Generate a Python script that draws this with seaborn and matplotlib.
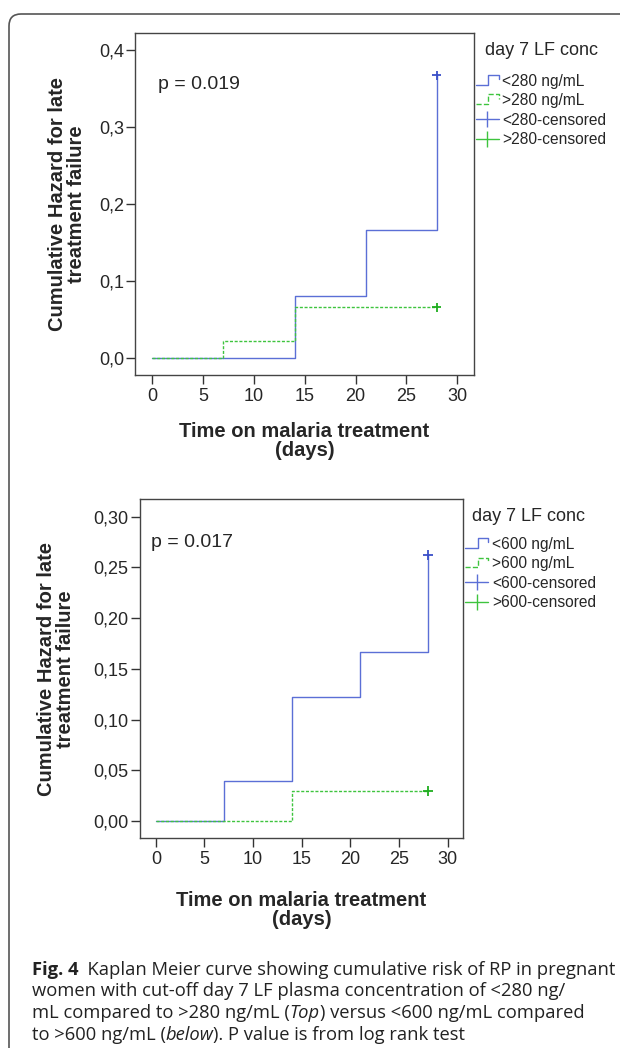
import numpy as np
import pandas as pd
import matplotlib
matplotlib.use('Agg')
import matplotlib.pyplot as plt
import seaborn as sns
from matplotlib.lines import Line2D
from matplotlib.legend_handler import HandlerBase
from matplotlib.patches import FancyBboxPatch
from matplotlib.transforms import IdentityTransform

# ---- data ----
# top panel (cut-off 280 ng/mL): step times and cumulative hazard after each step
top_low_days = [0, 14, 21, 28]
top_low_haz = [0.0, 0.081, 0.167, 0.367]
top_high_days = [0, 7, 14, 28]
top_high_haz = [0.0, 0.022, 0.066, 0.066]
top_labels = ['<280 ng/mL', '>280 ng/mL', '<280-censored', '>280-censored']
top_p = 'p = 0.019'
top_yticks = [0.0, 0.1, 0.2, 0.3, 0.4]
top_yticklabels = ['0,0', '0,1', '0,2', '0,3', '0,4']

# bottom panel (cut-off 600 ng/mL)
bot_low_days = [0, 7, 14, 21, 28]
bot_low_haz = [0.0, 0.039, 0.1225, 0.167, 0.262]
bot_high_days = [0, 14, 28]
bot_high_haz = [0.0, 0.0296, 0.0296]
bot_labels = ['<600 ng/mL', '>600 ng/mL', '<600-censored', '>600-censored']
bot_p = 'p = 0.017'
bot_yticks = [0.0, 0.05, 0.10, 0.15, 0.20, 0.25, 0.30]
bot_yticklabels = ['0,00', '0,05', '0,10', '0,15', '0,20', '0,25', '0,30']

censor_day = 28
xticks = [0, 5, 10, 15, 20, 25, 30]
legend_title = 'day 7 LF conc'

BLUE = '#5b6fd6'
BLUE_MK = '#3a4fc8'
GREEN = '#3ec43e'
GREEN_MK = '#1fae1f'

sns.set_style('ticks')
arial = ['Liberation Sans', 'DejaVu Sans']
plt.rcParams['font.family'] = arial


class StepHandler(HandlerBase):
    # small step glyph like the SPSS legend
    def create_artists(self, legend, orig_handle, xdescent, ydescent,
                       width, height, fontsize, trans):
        xs = [-xdescent + f * width for f in (0, 0.55, 0.55, 1, 1)]
        ys = [-ydescent + f * height for f in (0.1, 0.1, 1.0, 1.0, 0.6)]
        ln = Line2D(xs, ys, color=orig_handle.get_color(),
                    linestyle=orig_handle.get_linestyle(),
                    linewidth=orig_handle.get_linewidth())
        ln.set_transform(trans)
        return [ln]


def km_panel(ax, low_days, low_haz, high_days, high_haz, labels, ptxt,
             yticks, yticklabels, ylim, ptxt_xy, ylab_x, xlab_y, leg_xy,
             title_xy):
    df_low = pd.DataFrame({'day': low_days, 'haz': low_haz})
    df_high = pd.DataFrame({'day': high_days, 'haz': high_haz})
    sns.lineplot(data=df_low, x='day', y='haz', ax=ax, color=BLUE,
                 drawstyle='steps-post', estimator=None, sort=False, lw=1.0)
    sns.lineplot(data=df_high, x='day', y='haz', ax=ax, color=GREEN,
                 drawstyle='steps-post', estimator=None, sort=False, lw=1.0,
                 linestyle=(0, (2.2, 1.2)))
    # censored marks at end of follow-up
    cens = pd.DataFrame({'day': [censor_day, censor_day],
                         'haz': [low_haz[-1], high_haz[-1]],
                         'grp': ['low', 'high']})
    sns.scatterplot(data=cens, x='day', y='haz', hue='grp',
                    palette={'low': BLUE_MK, 'high': GREEN_MK},
                    marker='+', s=45, linewidth=1.3, ax=ax, legend=False,
                    zorder=5)

    ax.set_xlim(-1.67, 31.63)
    ax.set_ylim(*ylim)
    ax.set_xticks(xticks)
    ax.set_xticklabels([str(t) for t in xticks], fontsize=13)
    ax.set_yticks(yticks)
    ax.set_yticklabels(yticklabels, fontsize=13)
    ax.tick_params(direction='out', length=6.5, width=1, color='#333333',
                   pad=1.5)
    ax.tick_params(axis='x', pad=3)
    for sp in ax.spines.values():
        sp.set_visible(True)
        sp.set_color('#444444')
        sp.set_linewidth(1.0)

    ax.set_xlabel('Time on malaria treatment\n(days)', fontweight='bold',
                  fontsize=14.5, linespacing=1.0, va='top')
    ax.xaxis.set_label_coords(0.5, xlab_y)
    ax.set_ylabel('Cumulative Hazard for late\ntreatment failure',
                  fontweight='bold', fontsize=14.5, linespacing=1.0)
    ax.yaxis.set_label_coords(ylab_x, 0.5)
    ax.text(ptxt_xy[0], ptxt_xy[1], ptxt, transform=ax.transAxes,
            fontsize=14, va='center', ha='left')

    h_low = Line2D([], [], color=BLUE, lw=1.0)
    h_high = Line2D([], [], color=GREEN, lw=1.0, linestyle=(0, (2, 1)))
    h_cl = Line2D([], [], color=BLUE, lw=1.0, marker='|', markersize=11,
                  markeredgewidth=1.0)
    h_ch = Line2D([], [], color=GREEN, lw=1.0, marker='|', markersize=11,
                  markeredgewidth=1.0)
    ax.legend([h_low, h_high, h_cl, h_ch], labels,
              handler_map={h_low: StepHandler(), h_high: StepHandler()},
              loc='upper left', bbox_to_anchor=leg_xy,
              frameon=False, numpoints=1,
              handlelength=1.45, handletextpad=0.25, labelspacing=0.29,
              borderaxespad=0, borderpad=0, fontsize=11.2)
    ax.text(title_xy[0], title_xy[1], legend_title, transform=ax.transAxes,
            fontsize=13, va='center', ha='left')
    return ax


fig = plt.figure(figsize=(6.2, 10.48), dpi=100)

ax1 = fig.add_axes([0.2181, 0.6422, 0.546, 0.3263])
km_panel(ax1, top_low_days, top_low_haz, top_high_days, top_high_haz,
         top_labels, top_p, top_yticks, top_yticklabels, (-0.0217, 0.422),
         (0.068, 0.848), -0.145, -0.1365, (1.0068, 0.881), (1.0334, 0.950))

ax2 = fig.add_axes([0.2252, 0.2001, 0.5222, 0.3235])
km_panel(ax2, bot_low_days, bot_low_haz, bot_high_days, bot_high_haz,
         bot_labels, bot_p, bot_yticks, bot_yticklabels, (-0.017, 0.317),
         (0.035, 0.872), -0.2, -0.1546, (1.006, 0.889), (1.0256, 0.9487))

# rounded outer frame (open at right/bottom like the journal page)
frame = FancyBboxPatch((9, -30), 700, 1048 - 14 + 30,
                       boxstyle='round,pad=0,rounding_size=12',
                       transform=IdentityTransform(), fill=False,
                       edgecolor='#555555', lw=1.2)
fig.add_artist(frame)

# caption with mixed styles
cap_ax = fig.add_axes([0, 0, 1, 1])
cap_ax.axis('off')
cap_font = ['Open Sans', 'DejaVu Sans']
cap_size = 13.2
cap_lines = [
    [('Fig. 4', 'normal', 'bold'),
     ('  Kaplan Meier curve showing cumulative risk of RP in pregnant', 'normal', 'normal')],
    [('women with cut-off day 7 LF plasma concentration of <280 ng/', 'normal', 'normal')],
    [('mL compared to >280 ng/mL (', 'normal', 'normal'), ('Top', 'italic', 'normal'),
     (') versus <600 ng/mL compared', 'normal', 'normal')],
    [('to >600 ng/mL (', 'normal', 'normal'), ('below', 'italic', 'normal'),
     ('). P value is from log rank test', 'normal', 'normal')],
]
cap_y = [970, 991.5, 1013, 1034.5]
for parts, yc in zip(cap_lines, cap_y):
    prev = None
    for txt, style, weight in parts:
        if prev is None:
            prev = cap_ax.text(31.6 / 620, 1 - yc / 1048, txt, va='center',
                               ha='left', family=cap_font, fontsize=cap_size,
                               style=style, weight=weight,
                               transform=cap_ax.transAxes, color='#222222')
        else:
            prev = cap_ax.annotate(txt, xy=(1, 0), xycoords=prev,
                                   va='bottom', ha='left', family=cap_font,
                                   fontsize=cap_size, style=style,
                                   weight=weight, color='#222222')

fig.savefig('out.png', dpi=100)
